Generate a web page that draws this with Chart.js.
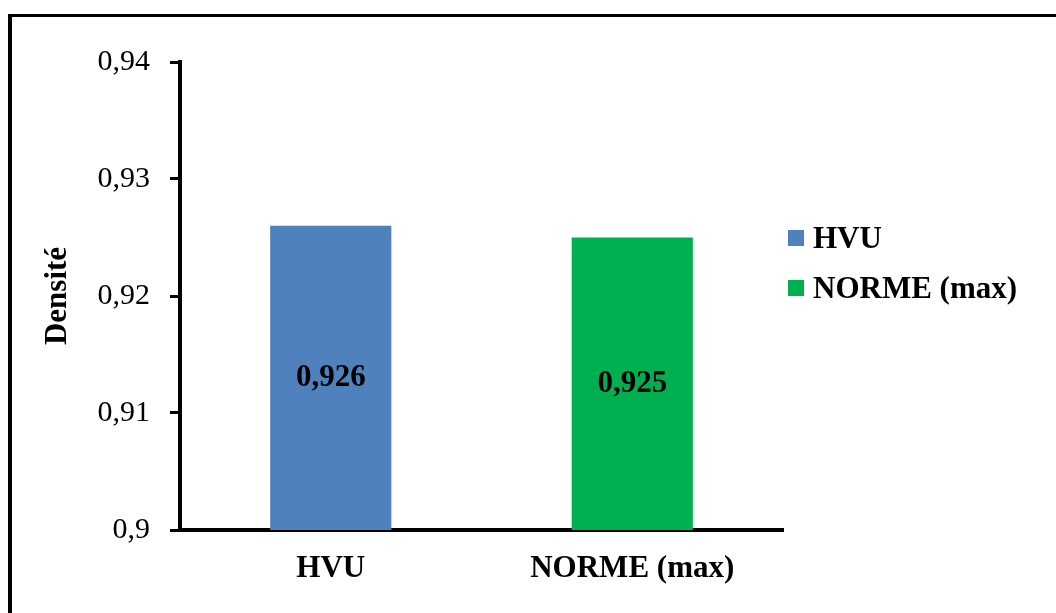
<!DOCTYPE html>
<html>
<head>
<meta charset="utf-8">
<script src="https://cdn.jsdelivr.net/npm/chart.js@4/dist/chart.umd.min.js"></script>
<style>
  html, body { margin: 0; padding: 0; background: #fff; overflow: hidden; }
  body { width: 1056px; height: 613px; position: relative; font-family: "Liberation Serif", "Times New Roman", serif; }
  #frame { position: absolute; left: 8px; top: 14px; width: 1200px; height: 800px;
           border-left: 4px solid #000; border-top: 3px solid #000; }
  #chart { position: absolute; left: 0; top: 0; }
  .legend-item { position: absolute; left: 788px; height: 16px; display: flex; align-items: center;
                 font-weight: bold; font-size: 31px; color: #000; white-space: nowrap; }
  .legend-item .box { width: 16px; height: 16px; margin-right: 9px; }
</style>
</head>
<body>
<div id="frame"></div>
<canvas id="chart" width="1056" height="613"></canvas>
<div id="legend"></div>
<script>
// Données du graphique
const categories = ['HVU', 'NORME (max)'];
const densityValues = [0.926, 0.925];
const barColors = ['#4F81BD', '#00B050'];
const yMin = 0.9;
const yMax = 0.94;
const yStep = 0.01;

// Format français : virgule décimale
function frNumber(v) {
    return String(Math.round(v * 1000) / 1000).replace('.', ',');
}

// Valeurs au milieu des barres (la base part de 0, donc on la coupe au bas de l'axe)
const barValueLabels = {
    id: 'barValueLabels',
    afterDatasetsDraw(chart) {
        const c = chart.ctx;
        const meta = chart.getDatasetMeta(0);
        const bottom = chart.scales.y.getPixelForValue(yMin);
        c.save();
        c.font = 'bold 31px "Liberation Serif"';
        c.fillStyle = '#000';
        c.textAlign = 'center';
        c.textBaseline = 'middle';
        meta.data.forEach((bar, i) => {
            const base = Math.min(bar.base, bottom);
            c.fillText(frNumber(chart.data.datasets[0].data[i]), bar.x, (bar.y + base) / 2);
        });
        c.restore();
    }
};

// Légende HTML à droite
const legend = document.getElementById('legend');
categories.forEach((cat, i) => {
    const item = document.createElement('div');
    item.className = 'legend-item';
    item.style.top = (230 + i * 50) + 'px';
    item.innerHTML = '<span class="box" style="background:' + barColors[i] + '"></span><span>' + cat + '</span>';
    legend.appendChild(item);
});

const ctx = document.getElementById('chart').getContext('2d');
new Chart(ctx, {
    type: 'bar',
    data: {
        labels: categories,
        datasets: [{
            label: 'Densité',
            data: densityValues,
            backgroundColor: barColors,
            borderWidth: 0,
            categoryPercentage: 1,
            barPercentage: 0.402
        }]
    },
    options: {
        responsive: false,
        animation: false,
        layout: { padding: { left: 0, top: 62, right: 273, bottom: 0 } },
        plugins: {
            legend: { display: false },
            tooltip: { enabled: false }
        },
        scales: {
            x: {
                grid: { display: false, drawTicks: false },
                border: { display: true, color: '#000', width: 4 },
                ticks: {
                    color: '#000',
                    padding: 20,
                    font: { family: 'Liberation Serif', size: 31, weight: 'bold' }
                },
                afterFit(scale) { scale.height = 83; }
            },
            y: {
                min: yMin,
                max: yMax,
                grid: { drawOnChartArea: false, drawTicks: true, tickLength: 10, tickWidth: 3, tickColor: '#000' },
                border: { display: true, color: '#000', width: 4 },
                ticks: {
                    stepSize: yStep,
                    color: '#000',
                    padding: 20,
                    font: { family: 'Liberation Serif', size: 30 },
                    callback: (v) => frNumber(Math.round(v * 100) / 100)
                },
                title: {
                    display: true,
                    text: 'Densité',
                    color: '#000',
                    padding: { top: 39, bottom: 0 },
                    font: { family: 'Liberation Serif', size: 31, weight: 'bold' }
                },
                afterFit(scale) { scale.width = 180; }
            }
        }
    },
    plugins: [barValueLabels]
});
</script>
</body>
</html>
